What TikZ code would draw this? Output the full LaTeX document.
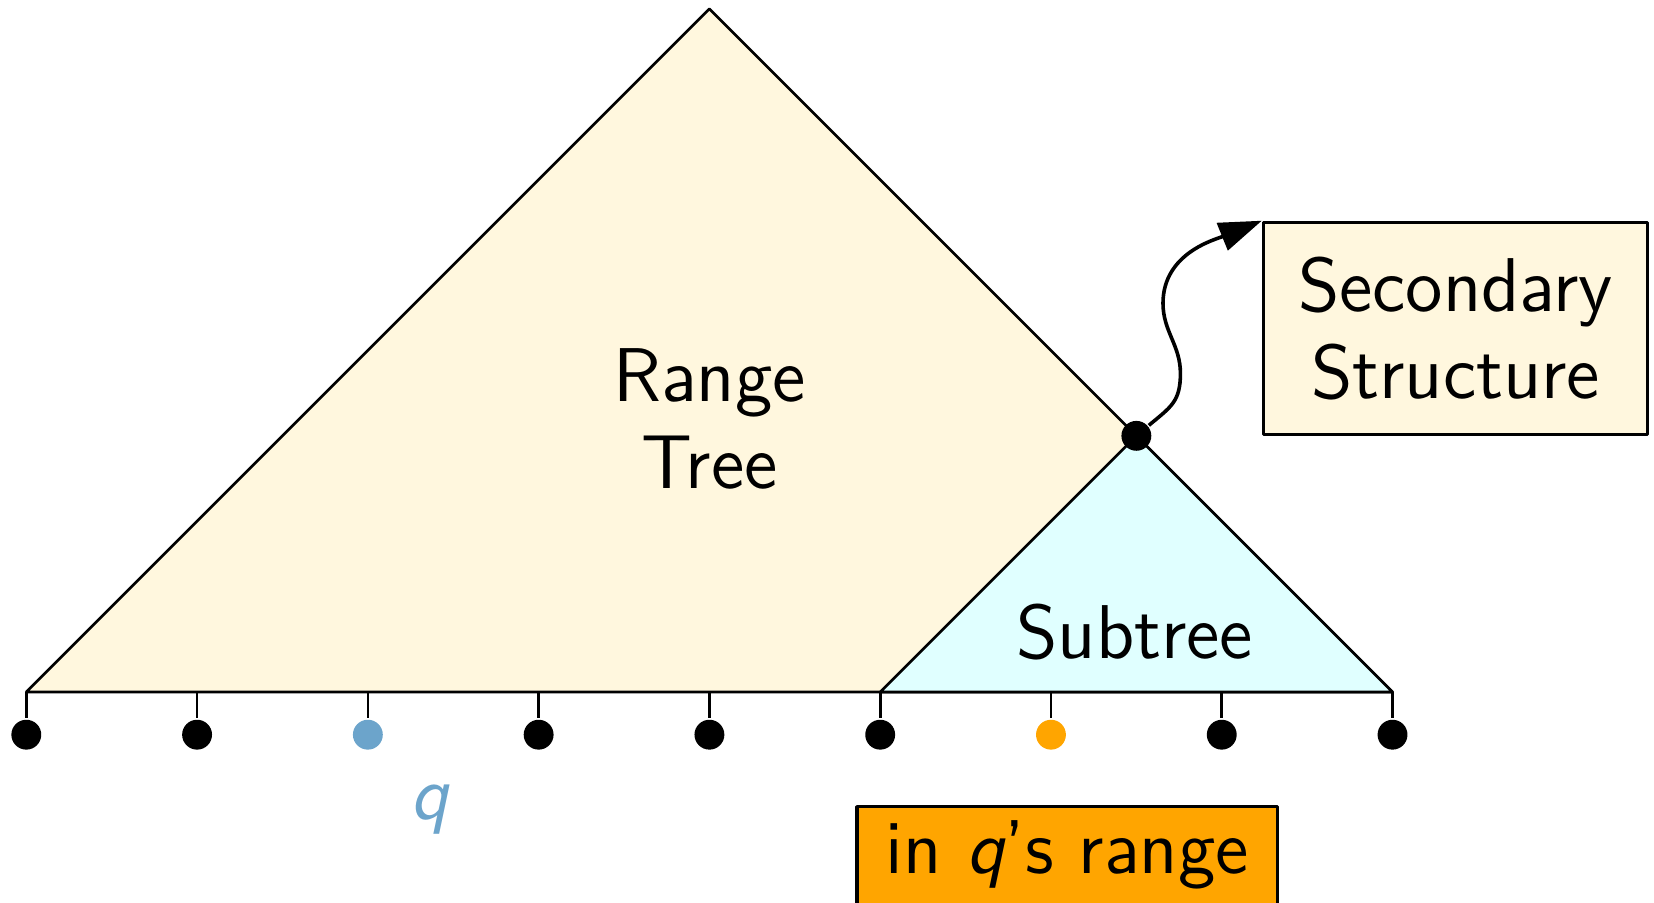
\documentclass[tikz,border=0pt]{standalone}
\usepackage{amsmath}
\usetikzlibrary{positioning}
\usetikzlibrary{arrows.meta}
\definecolor{treeyellow}{RGB}{255,247,222}
\definecolor{subcyan}{RGB}{224,255,255}
\definecolor{qblue}{RGB}{108,164,203}
\definecolor{rangeorange}{RGB}{255,165,0}

\begin{document}
\begin{tikzpicture}[line join=round, line width=0.45pt, font=\sffamily\fontsize{12.7}{14.6}\selectfont,
    leaf/.style={circle, fill=black, inner sep=0pt, minimum size=0.175cm},
    box/.style={draw, line width=0.6pt, inner sep=0pt}]
        \useasboundingbox (-0.154,-1.235) rectangle (9.531,4.052);
        % Define the number of leaf intervals
        \def\n{8}

        % Corners of the range tree and of the subtree
        \coordinate (top) at (4,4);
        \coordinate (L) at (0,0);
        \coordinate (R) at (\n,0);
        \coordinate (subtop) at (6.5,1.5);
        \coordinate (subL) at (5,0);

        % Draw the range tree and the subtree
        \draw[fill=treeyellow] (L) -- (top) -- (R) -- cycle;
        \draw[fill=subcyan] (subL) -- (subtop) -- (R) -- cycle;

        % Draw the leaves hanging below the base
        \foreach \i/\c in {0/black,1/black,2/qblue,3/black,4/black,5/black,6/rangeorange,7/black,8/black}
        {
          \coordinate (b\i) at (\i,0);
          \node[leaf, fill=\c] (l\i) at (\i,-0.25) {};
          \draw (b\i) -- (l\i);
        }

        \node[text=qblue] (q) at (2.36,-0.69) {\itshape q};

        % Labels inside the triangles
        \node[align=center] (rt) at (4,1.6) {Range\\Tree};
        \node (st) at (6.49,0.35) {Subtree};

        % Boxes
        \node[box, fill=treeyellow, minimum width=2.248cm, minimum height=1.242cm, align=center] (sec) at (8.369,2.128) {Secondary\\Structure};
        \node[box, fill=rangeorange, anchor=north, minimum width=2.465cm, inner ysep=0.09cm, text height=0.3cm, text depth=0.3cm] (range) at (6.095,-0.661) {in {\itshape q}'s range};

        % Subtree root and its wavy link to the secondary structure
        \node[leaf] (sub) at (subtop) {};
        \coordinate (bulgeR) at (6.758,1.866);
        \coordinate (bulgeL) at (6.656,2.276);
        \draw[line width=0.6pt, -{Triangle[length=0.25cm,width=0.17cm]}] (sub) to[out=40, in=-90, looseness=1.2] (bulgeR) to[out=90, in=-90] (bulgeL) to[out=90, in=202] (sec.north west);
      \end{tikzpicture}
\end{document}
